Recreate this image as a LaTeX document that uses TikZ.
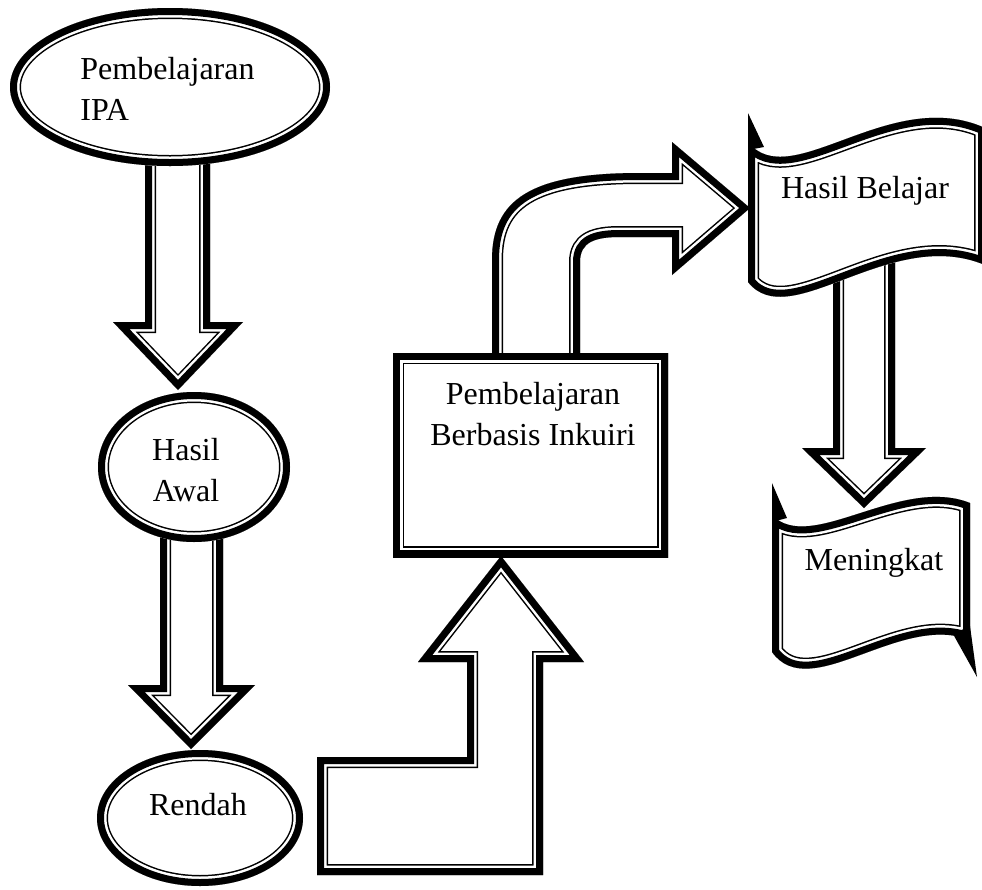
\documentclass[tikz,border=0pt]{standalone}
\usepackage{fontspec}
\setmainfont{Liberation Serif}
\usepackage{tikz}
\usetikzlibrary{positioning}
\tikzset{
  lbltext/.style={
    font=\fontsize{16}{20.75}\selectfont,
    inner sep=0pt,align=center
  },
  spike/.style={fill=black},
}
% thick-thin border drawn on the inside of a closed path
\newcommand{\frameshape}[1]{%
  \begin{scope}
    \clip #1;
    \fill[white] #1;
    \draw[line width=11pt] #1;
    \draw[line width=9.5pt, white] #1;
    \draw[line width=7pt] #1;
  \end{scope}}

\begin{document}
\begin{tikzpicture}[x=0.5pt,y=-0.5pt]
  \useasboundingbox (0,0) rectangle (982,890);
  % block arrows
  \frameshape{(145,140) -- (145,322) -- (113,322) -- (178,390) -- (243,322) -- (210,322) -- (210,140) -- cycle}
  \frameshape{(160,520) -- (160,685) -- (128,685) -- (191,749) -- (255,685) -- (223,685) -- (223,520) -- cycle}
  \frameshape{(317,875) -- (317,757) -- (467,757) -- (467,662) -- (418,662) -- (501,556) -- (584,662) -- (543,662) -- (543,875) -- cycle}
  \frameshape{(492,380) -- (492,260) .. controls (492,200) and (530,173) .. (640,173) -- (672,173) -- (672,142) -- (750,208) -- (672,275) -- (672,237) -- (620,237) .. controls (595,237) and (580,242) .. (580,262) -- (580,380) -- cycle}
  \frameshape{(833,250) -- (833,448) -- (802,448) -- (864,508) -- (926,448) -- (895,448) -- (895,250) -- cycle}
  % shapes
  \frameshape{(170,87) ellipse [x radius=80pt, y radius=39.5pt]}
  \frameshape{(194,467) ellipse [x radius=48pt, y radius=37.5pt]}
  \frameshape{(200,818) ellipse [x radius=51.5pt, y radius=34pt]}
  \frameshape{(393,353) rectangle (668,557)}
  \frameshape{(748,142) .. controls (790,195) and (890,85) .. (985,128) -- (985,265) .. controls (890,225) and (790,335) .. (748,282) -- cycle}
  \frameshape{(772,515) .. controls (810,555) and (900,475) .. (970,503) -- (970,640) .. controls (900,612) and (810,705) .. (772,652) -- cycle}
  % corner spikes of the banners
  \fill[spike] (748,113) -- (748,150) -- (764,147) -- cycle;
  \fill[spike] (772,483) -- (772,522) -- (787,518) -- cycle;
  \fill[spike] (970,626) -- (977,677) -- (953,634) -- cycle;
  % labels
  \node[lbltext, align=left, anchor=west] (ipa) at (80,89) {Pembelajaran\\IPA};
  \node[lbltext] (awal) at (186,470) {Hasil\\Awal};
  \node[lbltext, anchor=base] (rendah) at (198,815) {Rendah};
  \node[lbltext] (inkuiri) at (533,414) {Pembelajaran\\Berbasis Inkuiri};
  \node[lbltext, anchor=base] (belajar) at (865,198) {Hasil Belajar};
  \node[lbltext, anchor=base] (meningkat) at (874,570) {Meningkat};
\end{tikzpicture}
\end{document}
